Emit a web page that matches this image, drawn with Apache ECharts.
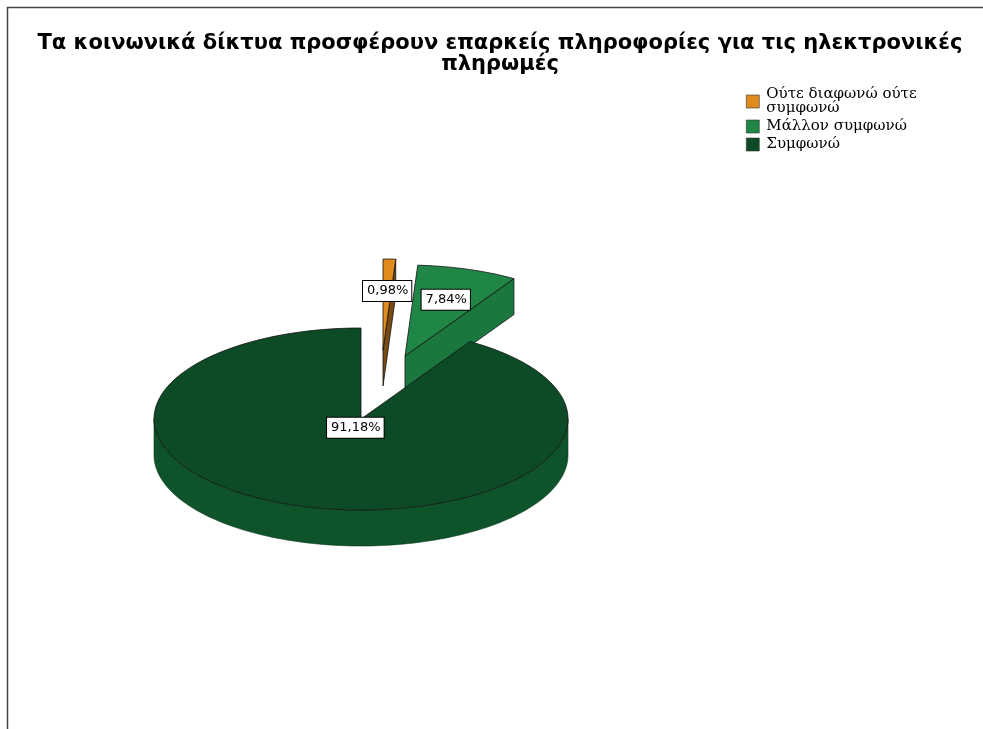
<!DOCTYPE html>
<html>
<head>
<meta charset="utf-8">
<script src="https://cdn.jsdelivr.net/npm/echarts@6/dist/echarts.min.js"></script>
<style>
html,body{margin:0;padding:0;background:#fff;}
#main{width:983px;height:729px;}
</style>
</head>
<body>
<div id="main"></div>
<script>
// ---- data ----
const categories = ['Ούτε διαφωνώ ούτε συμφωνώ', 'Μάλλον συμφωνώ', 'Συμφωνώ'];
const percentages = [0.98, 7.84, 91.18];
const titleText = 'Τα κοινωνικά δίκτυα προσφέρουν επαρκείς πληροφορίες για τις ηλεκτρονικές\nπληρωμές';

// ---- styles ----
const topColors = ['#e08c1c', '#1f8646', '#0c4b25'];
const sideColors = ['#7a4b10', '#1a773d', '#0f532a'];
const explode = [[22, -69], [44, -63], [0, 0]];
const labelFrac = [0.65, 0.65, 0.1];
const geo = { cx: 361, cy: 419, rx: 207, ry: 91, depth: 36 };

const total = percentages.reduce((a, b) => a + b, 0);
function fmt(v) { return v.toFixed(2).replace('.', ',') + '%'; }

function makeRender(idx) {
  return function (params, api) {
    const v = api.value(0);
    let before = 0;
    for (let i = 0; i < idx; i++) before += percentages[i];
    const s = before / total * Math.PI * 2;
    const e = (before + v) / total * Math.PI * 2;
    const ox = explode[idx][0], oy = explode[idx][1];
    const d = geo.depth;
    const pt = (th, dz) => [geo.cx + ox + geo.rx * Math.sin(th), geo.cy + oy - geo.ry * Math.cos(th) + dz];
    const arc = (a, b, dz) => {
      const n = Math.max(2, Math.ceil(Math.abs(b - a) / (Math.PI / 120)));
      const out = [];
      for (let k = 0; k <= n; k++) out.push(pt(a + (b - a) * k / n, dz));
      return out;
    };
    const center = (dz) => [geo.cx + ox, geo.cy + oy + dz];
    const children = [];
    const stroke = '#111';
    if (Math.sin(e) > 1e-6) {
      children.push({ type: 'polygon', shape: { points: [center(0), pt(e, 0), pt(e, d), center(d)] },
        style: { fill: sideColors[idx], stroke: stroke, lineWidth: 0.8 } });
    }
    if (Math.sin(s) < -1e-6) {
      children.push({ type: 'polygon', shape: { points: [center(0), pt(s, 0), pt(s, d), center(d)] },
        style: { fill: sideColors[idx], stroke: stroke, lineWidth: 0.8 } });
    }
    const a = Math.max(s, Math.PI / 2), b = Math.min(e, Math.PI * 1.5);
    if (b > a) {
      const topPts = arc(a, b, 0);
      const botPts = arc(b, a, d);
      children.push({ type: 'polygon', shape: { points: topPts.concat(botPts) },
        style: { fill: sideColors[idx], stroke: '#0a3a1c', lineWidth: 0.6 } });
    }
    children.push({ type: 'polygon', shape: { points: [center(0)].concat(arc(s, e, 0)) },
      style: { fill: topColors[idx], stroke: stroke, lineWidth: 0.8 } });
    const m = (s + e) / 2;
    const f = labelFrac[idx];
    children.push({ type: 'text', z2: 100,
      x: geo.cx + ox + f * geo.rx * Math.sin(m),
      y: geo.cy + oy - f * geo.ry * Math.cos(m),
      style: { text: fmt(v), font: '13px "DejaVu Sans"', fill: '#000', align: 'center', verticalAlign: 'middle',
        backgroundColor: '#fff', borderColor: '#000', borderWidth: 1, padding: [4, 3, 3, 4] } });
    return { type: 'group', children: children };
  };
}

const series = categories.map((name, i) => ({
  type: 'custom',
  name: name,
  coordinateSystem: 'none',
  itemStyle: { color: topColors[i] },
  data: [[percentages[i]]],
  renderItem: makeRender(i),
  silent: true
}));

const chart = echarts.init(document.getElementById('main'), null, { renderer: 'canvas' });
chart.setOption({
  backgroundColor: '#fff',
  animation: false,
  title: {
    text: titleText,
    left: 500,
    textAlign: 'center',
    top: 33,
    padding: 0,
    textStyle: { fontFamily: '"DejaVu Sans", sans-serif', fontSize: 21, fontWeight: 'bold', color: '#000', lineHeight: 21 }
  },
  legend: {
    orient: 'vertical',
    left: 741,
    top: 82,
    itemWidth: 13,
    itemHeight: 13,
    itemGap: 3,
    icon: 'rect',
    itemStyle: { borderColor: '#333', borderWidth: 0.6 },
    textStyle: { fontFamily: '"DejaVu Serif", serif', fontSize: 15, color: '#000', lineHeight: 14, padding: [0, 0, 0, 2] },
    formatter: function (name) { return name === categories[0] ? 'Ούτε διαφωνώ ούτε\nσυμφωνώ' : name; },
    data: categories
  },
  graphic: [{
    type: 'polyline', silent: true,
    shape: { points: [[7.5, 729], [7.5, 7.5], [983, 7.5]] },
    style: { stroke: '#444', lineWidth: 1.5, fill: null }
  }],
  series: series
});
</script>
</body>
</html>
